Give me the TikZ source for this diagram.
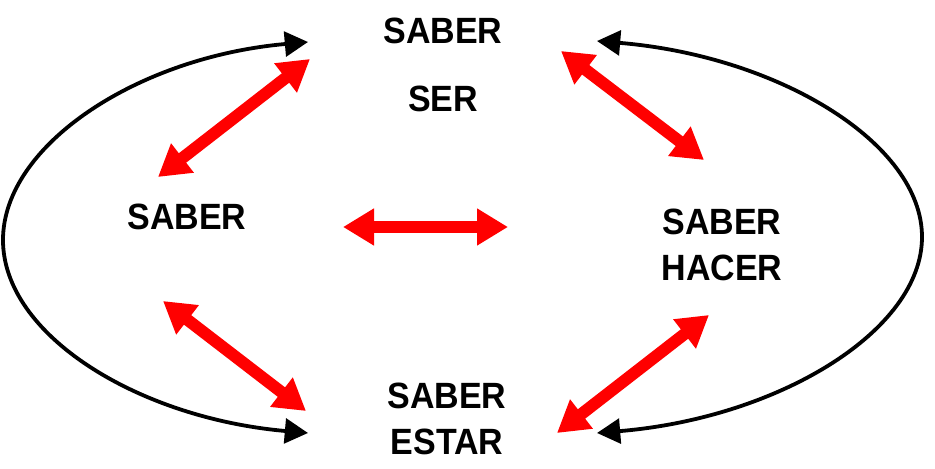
\documentclass[tikz,border=0pt]{standalone}
\usepackage{fontspec}
\newfontfamily\conceptfont[FakeStretch=0.93]{Liberation Sans}
\usetikzlibrary{arrows.meta}
\tikzstyle{concept} = [font=\conceptfont\bfseries\fontsize{26}{32.7}\selectfont, text centered, align=center, inner sep=0pt]
\tikzstyle{link} = [draw, red, line width=8.5pt, {Triangle[length=0.775cm, width=0.875cm]}-{Triangle[length=0.775cm, width=0.875cm]}]
\tikzstyle{loopline} = [draw, black, line width=2.7pt, {Triangle[length=0.58cm, width=0.62cm]}-{Triangle[length=0.58cm, width=0.62cm]}]

\begin{document}
\begin{tikzpicture}[node distance=1.7cm, auto]
    \useasboundingbox (0,0) rectangle (23.375,-11.725);
    % Draw nodes
    % Centre line
    \node (saberA) [concept] at (11.075,-0.775) {SABER};
    \node (ser) [concept, below of=saberA] {SER};
    \node (estar) [concept, below of=ser, xshift=0.1cm, yshift=-6.3cm] {SABER\\ESTAR};

    % Sides
    \node (saberB) [concept, left of=ser, xshift=-4.7cm, yshift=-2.95cm] {SABER};
    \node (hacer) [concept, right of=ser, xshift=5.275cm, yshift=-3.65cm] {SABER\\HACER};

    % Draw lines
    % Red links
    \path [link] ([shift={(-0.725,1.0)}]saberB.center) -- ([shift={(-3.325,-0.7)}]saberA.center);
    \path [link] ([shift={(2.95,-0.5)}]saberA.center) -- ([shift={(-0.45,2.125)}]hacer.center);
    \path [link] ([shift={(3.9,-0.25)}]saberB.center) -- ([shift={(-5.35,0.45)}]hacer.center);
    \path [link] ([shift={(-0.6,-2.1)}]saberB.center) -- ([shift={(-3.525,0.2)}]estar.center);
    \path [link] ([shift={(-0.325,-1.75)}]hacer.center) -- ([shift={(2.75,-0.35)}]estar.center);

    % Outer loops
    \coordinate (leftturn) at ([shift={(-4.6,-0.575)}]saberB.center);
    \coordinate (rightturn) at ([shift={(5.0,0.2)}]hacer.center);
    \path [loopline] ([shift={(-3.375,-0.275)}]saberA.center) .. controls +(-4.25,-0.375) and +(0,2.375) .. (leftturn)
        .. controls +(0,-2.375) and +(-4.25,0.375) .. ([shift={(-3.475,-0.35)}]estar.center);
    \path [loopline] ([shift={(3.85,-0.25)}]saberA.center) .. controls +(4.525,-0.375) and +(0,2.35) .. (rightturn)
        .. controls +(0,-2.35) and +(4.525,0.375) .. ([shift={(3.75,-0.35)}]estar.center);
\end{tikzpicture}
\end{document}
